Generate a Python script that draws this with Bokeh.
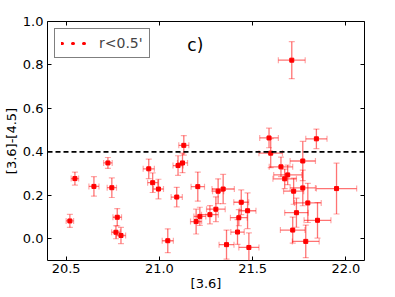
from bokeh.plotting import figure
from bokeh.models import (ColumnDataSource, Whisker, TeeHead, Span, Label, Legend,
                          LegendItem, FixedTicker, PrintfTickFormatter, LinearAxis, Range1d,
                          CustomJSTickFormatter)
from bokeh.embed import file_html
from bokeh.resources import INLINE

# ---- data ----
mag36 = [20.52, 20.547, 20.649, 20.724, 20.745, 20.774, 20.767, 20.794, 20.943, 20.964,
         20.995, 21.045, 21.093, 21.10, 21.124, 21.131, 21.197, 21.206, 21.217, 21.271,
         21.303, 21.315, 21.342, 21.36, 21.419, 21.426, 21.439, 21.473, 21.48, 21.588,
         21.597, 21.652, 21.672, 21.688, 21.715, 21.72, 21.735, 21.769, 21.769, 21.785,
         21.796, 21.842, 21.848, 21.95, 21.71]
color = [0.082, 0.277, 0.241, 0.349, 0.235, 0.099, 0.030, 0.015, 0.322, 0.258,
         0.229, -0.009, 0.192, 0.337, 0.349, 0.430, 0.079, 0.240, 0.103, 0.111,
         0.136, 0.219, 0.229, -0.027, 0.031, 0.097, 0.168, 0.129, -0.040, 0.464,
         0.394, 0.331, 0.276, 0.294, 0.040, 0.219, 0.120, 0.358, 0.234, -0.012,
         0.165, 0.460, 0.085, 0.231, 0.822]
mag_err = [0.02, 0.02, 0.027, 0.023, 0.025, 0.023, 0.023, 0.025, 0.03, 0.027,
           0.027, 0.03, 0.03, 0.027, 0.027, 0.027, 0.03, 0.036, 0.032, 0.045,
           0.05, 0.03, 0.06, 0.04, 0.036, 0.045, 0.04, 0.045, 0.054, 0.05,
           0.063, 0.063, 0.063, 0.075, 0.066, 0.054, 0.063, 0.068, 0.068, 0.072,
           0.072, 0.057, 0.072, 0.108, 0.072]
color_err = [0.03, 0.03, 0.045, 0.025, 0.045, 0.04, 0.03, 0.037, 0.045, 0.045,
             0.045, 0.055, 0.045, 0.045, 0.045, 0.045, 0.057, 0.067, 0.042, 0.042,
             0.057, 0.057, 0.067, 0.067, 0.057, 0.037, 0.057, 0.082, 0.067, 0.045,
             0.067, 0.045, 0.045, 0.045, 0.06, 0.06, 0.067, 0.09, 0.082, 0.075,
             0.09, 0.045, 0.082, 0.117, 0.085]
x_ticks = [20.5, 21.0, 21.5, 22.0]
y_ticks = [0.0, 0.2, 0.4, 0.6, 0.8, 1.0]
x_limits = (20.4, 22.1)
y_limits = (-0.1, 1.0)
threshold = 0.4
panel_label = "c)"
panel_label_pos = (21.15, 0.845)
legend_label = "r<0.5'"

# ---- figure ----
FONT = "DejaVu Sans"
p = figure(frame_width=317, frame_height=239, output_backend="svg", toolbar_location=None,
           x_range=Range1d(*x_limits), y_range=Range1d(*y_limits),
           min_border_left=41, min_border_right=14, min_border_top=21, min_border_bottom=0)
p.xgrid.visible = False
p.ygrid.visible = False
p.outline_line_color = "black"
p.outline_line_width = 1
p.background_fill_color = "white"
p.border_fill_color = "white"

src = ColumnDataSource(dict(
    x=mag36, y=color,
    xl=[a - b for a, b in zip(mag36, mag_err)], xu=[a + b for a, b in zip(mag36, mag_err)],
    yl=[a - b for a, b in zip(color, color_err)], yu=[a + b for a, b in zip(color, color_err)],
))

err_col = "red"
err_alpha = 0.55
for dim, base, lo, up in (("height", "x", "yl", "yu"), ("width", "y", "xl", "xu")):
    w = Whisker(source=src, base=base, lower=lo, upper=up, dimension=dim,
                line_color=err_col, line_alpha=err_alpha, line_width=1.3,
                upper_head=TeeHead(size=6, line_color=err_col, line_alpha=0.35, line_width=1.2),
                lower_head=TeeHead(size=6, line_color=err_col, line_alpha=0.35, line_width=1.2))
    p.add_layout(w)

p.add_layout(Span(location=threshold, dimension="width", line_color="black",
                  line_dash="5 3", line_width=1.6))

p.scatter("x", "y", source=src, marker="square", size=4, fill_color="red",
          line_color="red")

# legend glyph: a dotted line (three round dots), mapped on a range outside the frame
# so that only its legend swatch is visible
p.extra_y_ranges = {"legend_only": Range1d(100, 101)}
leg_r = p.line("x", "y", source=src, y_range_name="legend_only",
               line_color="red", line_width=3, line_dash="1 10", line_cap="round")
legend = Legend(items=[LegendItem(label=legend_label, renderers=[leg_r])],
                location="top_left", margin=7, padding=6, spacing=0,
                glyph_width=26, glyph_height=14, label_standoff=12,
                label_text_font=FONT, label_text_font_size="14px",
                border_line_color="black", border_line_width=1,
                background_fill_alpha=1)
p.add_layout(legend)

p.add_layout(Label(x=panel_label_pos[0], y=panel_label_pos[1], text=panel_label,
                   text_font=FONT, text_font_size="17px", text_color="black"))

# axes styling
for ax in (p.xaxis[0], p.yaxis[0]):
    ax.major_tick_in = 4
    ax.major_tick_out = 0
    ax.minor_tick_in = 0
    ax.minor_tick_out = 0
    ax.axis_line_color = None
    ax.major_tick_line_color = "black"
    ax.major_label_text_font = FONT
    ax.major_label_text_font_size = "13px"
    ax.major_label_text_color = "black"
    ax.axis_label_text_font = FONT
    ax.axis_label_text_font_size = "13px"
    ax.axis_label_text_font_style = "normal"
    ax.axis_label_text_color = "black"

p.xaxis[0].ticker = FixedTicker(ticks=x_ticks)
p.xaxis[0].formatter = PrintfTickFormatter(format="%.1f")
p.xaxis[0].axis_label = "[3.6]"
p.xaxis[0].major_label_standoff = 3
p.xaxis[0].axis_label_standoff = 0
p.yaxis[0].ticker = FixedTicker(ticks=y_ticks)
p.yaxis[0].formatter = PrintfTickFormatter(format="%.1f")
p.yaxis[0].axis_label = "[3.6]-[4.5]"
p.yaxis[0].major_label_standoff = 4
p.yaxis[0].axis_label_standoff = 1

# ticks on top and right (no labels)
blank = CustomJSTickFormatter(code="return ''")
top = LinearAxis(ticker=FixedTicker(ticks=x_ticks), formatter=blank,
                 major_tick_in=4, major_tick_out=0, minor_tick_in=0, minor_tick_out=0,
                 axis_line_color=None, major_label_standoff=0)
right = LinearAxis(ticker=FixedTicker(ticks=y_ticks), formatter=blank,
                   major_tick_in=4, major_tick_out=0, minor_tick_in=0, minor_tick_out=0,
                   axis_line_color=None, major_label_standoff=0)
p.add_layout(top, "above")
p.add_layout(right, "right")

open("out.html", "w").write(file_html(p, INLINE))
